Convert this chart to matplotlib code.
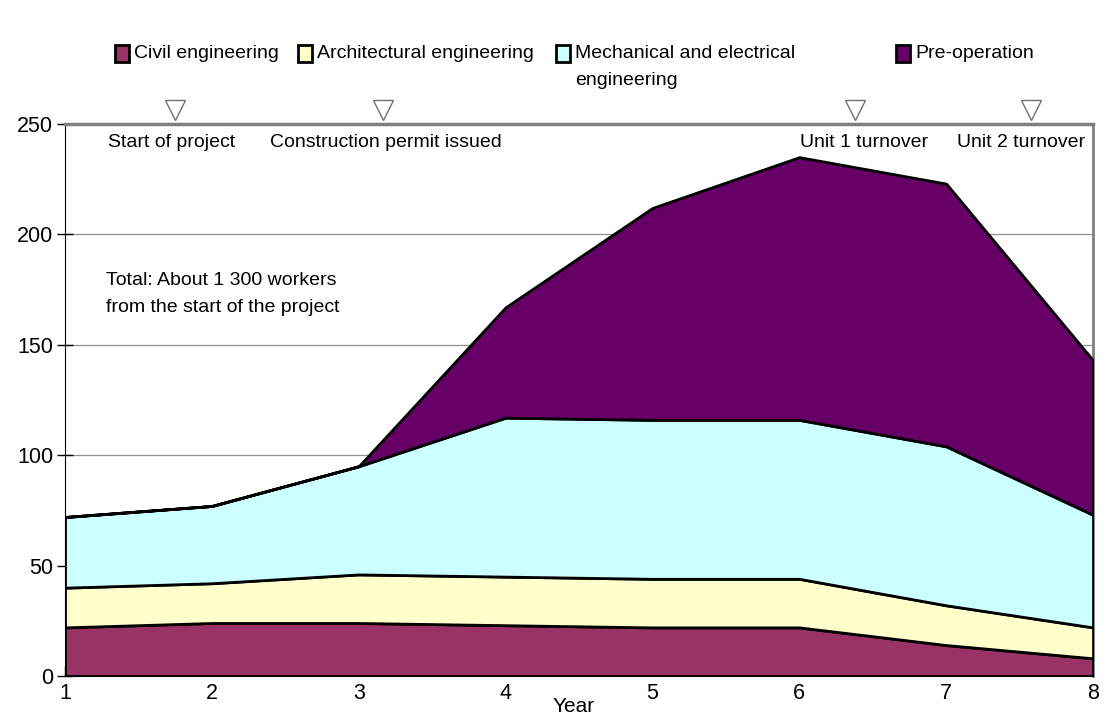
import numpy as np
import matplotlib
matplotlib.use("Agg")
import matplotlib.pyplot as plt
from matplotlib.patches import Rectangle

plt.rcParams['font.family'] = ['Liberation Sans Narrow', 'Liberation Sans', 'DejaVu Sans']

# workforce by year of construction (workers)
years = [1, 2, 3, 4, 5, 6, 7, 8]
civil = [22, 24, 24, 23, 22, 22, 14, 8]
architectural = [18, 18, 22, 22, 22, 22, 18, 14]
mechanical = [32, 35, 49, 72, 72, 72, 72, 51]
pre_operation = [0, 0, 0, 50, 96, 119, 119, 70]

series_names = ["Civil engineering", "Architectural engineering",
                "Mechanical and electrical\nengineering", "Pre-operation"]
colors = ["#993366", "#FFFFCC", "#CCFFFF", "#660066"]

# project milestones (year position, label)
milestone_x = [1.75, 3.165, 6.38, 7.578]
milestone_labels = ["Start of project", "Construction permit issued",
                    "Unit 1 turnover", "Unit 2 turnover"]
yticks = [0, 50, 100, 150, 200, 250]

fig = plt.figure(figsize=(11.15, 7.27), dpi=100)
ax = fig.add_axes([0.0583, 0.0702, 0.922, 0.7592])

ax.stackplot(years, civil, architectural, mechanical, pre_operation,
             colors=colors, edgecolor="black", linewidth=2, zorder=3)

ax.set_xlim(1, 8)
ax.set_ylim(0, 250)
ax.set_xticks(years)
ax.set_yticks(yticks)
for y in yticks[1:-1]:
    ax.axhline(y, color="#909090", linewidth=0.9, zorder=1)

ax.tick_params(axis="x", direction="in", length=7, width=1, labelsize=15.5, pad=5)
ax.tick_params(axis="y", direction="inout", length=11, width=1, labelsize=15.5, pad=3)
ax.spines["left"].set_color("black")
ax.spines["bottom"].set_color("black")
ax.spines["top"].set_color("#808080")
ax.spines["top"].set_linewidth(2.5)
ax.spines["right"].set_color("#808080")
ax.spines["right"].set_linewidth(2)
ax.set_xlabel("Year", fontsize=15)
ax.xaxis.set_label_coords(0.495, -0.038)

# milestone markers above the frame and their labels inside
ax.plot(milestone_x, [256.5] * len(milestone_x), linestyle="none", marker="v",
        markersize=15, markerfacecolor="white", markeredgecolor="#707070",
        markeredgewidth=1, clip_on=False, zorder=5)
label_x = [1.293, 2.396, 6.005, 7.074]
for lx, txt in zip(label_x, milestone_labels):
    ax.text(lx, 241.8, txt, fontsize=14, ha="left", va="center", zorder=6)

ax.text(1.28, 173, "Total: About 1 300 workers\nfrom the start of the project",
        fontsize=14, ha="left", va="center", linespacing=1.75, zorder=6)

# legend row across the top
legend_x = [115, 298, 556, 896]
for px, name, c in zip(legend_x, series_names, colors):
    fig.patches.append(Rectangle((px / 1115, 1 - 62 / 727), 14 / 1115, 17 / 727,
                                 transform=fig.transFigure, facecolor=c,
                                 edgecolor="black", linewidth=2))
    fig.text((px + 19) / 1115, 1 - 45 / 727, name, fontsize=14,
             ha="left", va="top", linespacing=1.75)

fig.savefig("out.png", dpi=100)
